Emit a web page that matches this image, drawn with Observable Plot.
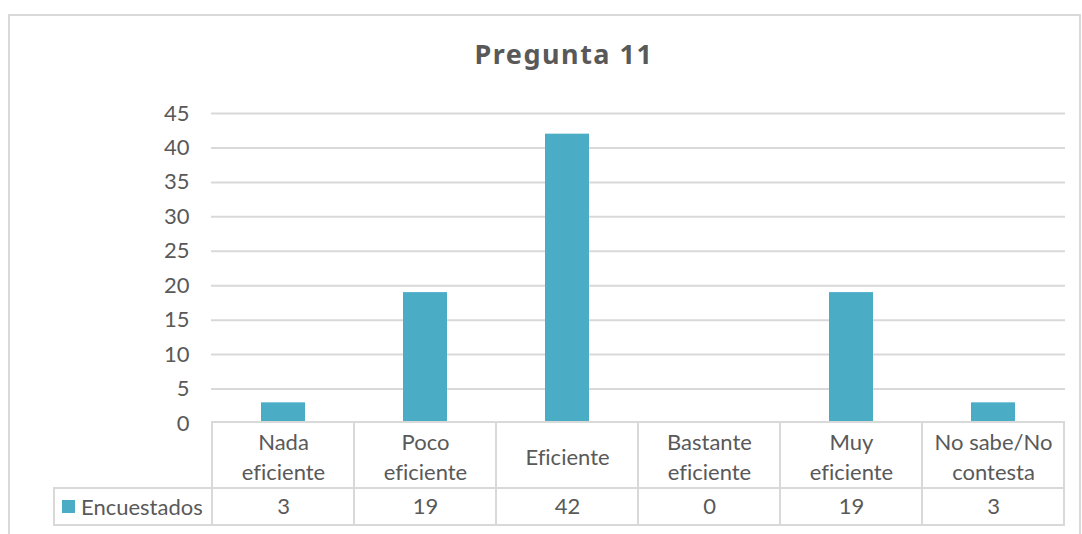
<!DOCTYPE html>
<html>
<head>
<meta charset="utf-8">
<script src="https://cdn.jsdelivr.net/npm/d3@7"></script>
<script src="https://cdn.jsdelivr.net/npm/@observablehq/plot@0.6"></script>
<style>
  html, body { margin: 0; padding: 0; background: #fff; }
  body { width: 1082px; height: 534px; overflow: hidden; position: relative; font-family: Lato, "Open Sans", sans-serif; color: #595959; font-variant-ligatures: none; }
  svg text { font-variant-ligatures: none; }
  #frame { position: absolute; left: 8px; top: 14px; width: 1073px; height: 560px; border: 2px solid #d9d9d9; box-sizing: border-box; pointer-events: none; }
  #title { position: absolute; left: 364px; width: 400px; top: 39px; text-align: center; font-family: "Noto Sans", "Open Sans", sans-serif; font-size: 27px; line-height: 30px; letter-spacing: 1.5px; font-weight: 700; color: #595959; }
  .part { position: absolute; left: 0; }
  .part svg { overflow: visible; }
  #legend { position: absolute; left: 53px; top: 487px; width: 160px; height: 39px; border: 2px solid #d9d9d9; box-sizing: border-box; background: #fff; display: flex; align-items: center; font-size: 22px; color: #595959; }
  #legend .sw { width: 13px; height: 13px; background: #4bacc6; margin-left: 7px; margin-right: 6px; }
</style>
</head>
<body>
<div id="title">Pregunta 11</div>
<div id="chart" class="part" style="top:90px"></div>
<div id="header" class="part" style="top:421px"></div>
<div id="values" class="part" style="top:487px"></div>
<div id="legend"><span class="sw"></span><span id="legendText"></span></div>
<div id="frame"></div>
<script>
const categories = ["Nada eficiente", "Poco eficiente", "Eficiente", "Bastante eficiente", "Muy eficiente", "No sabe/No contesta"];
const categoryLabels = ["Nada\neficiente", "Poco\neficiente", "Eficiente", "Bastante\neficiente", "Muy\neficiente", "No sabe/No\ncontesta"];
const seriesName = "Encuestados";
const values = [3, 19, 42, 0, 19, 3];
const yTicks = [0, 5, 10, 15, 20, 25, 30, 35, 40, 45];

const data = categories.map((c, i) => ({category: c, label: categoryLabels[i], value: values[i]}));

const FONT = "Lato, 'Open Sans', sans-serif";
const TEXT = "#595959";
const GRID = "#d9d9d9";
const BAR = "#4bacc6";

const xScale = {type: "band", domain: categories, padding: 0, axis: null};
const baseStyle = {fontFamily: FONT, fontSize: "22px", color: TEXT, background: "transparent", overflow: "visible", fontVariantLigatures: "none"};

const chart = Plot.plot({
  width: 1082, height: 345,
  marginLeft: 211, marginRight: 17, marginTop: 23, marginBottom: 12,
  x: xScale,
  y: {domain: [0, 45], axis: null},
  style: baseStyle,
  marks: [
    Plot.gridY(yTicks, {stroke: GRID, strokeOpacity: 1, strokeWidth: 2}),
    Plot.axisY(yTicks, {tickSize: 0, tickPadding: 22, fontSize: 22, fill: TEXT, label: null}),
    Plot.barY(data, {x: "category", y: "value", fill: BAR, insetLeft: 49, insetRight: 49})
  ]
});
document.getElementById("chart").append(chart);

const header = Plot.plot({
  width: 1082, height: 68,
  marginLeft: 211, marginRight: 17, marginTop: 1, marginBottom: 1,
  x: xScale,
  style: baseStyle,
  marks: [
    Plot.cell(data, {x: "category", fill: "white", stroke: GRID, strokeWidth: 2}),
    Plot.text(data, {x: "category", text: "label", frameAnchor: "middle", lineHeight: 1.36, fontSize: 22, fill: TEXT})
  ]
});
document.getElementById("header").append(header);

const valueRow = Plot.plot({
  width: 1082, height: 39,
  marginLeft: 211, marginRight: 17, marginTop: 1, marginBottom: 1,
  x: xScale,
  style: baseStyle,
  marks: [
    Plot.cell(data, {x: "category", fill: "white", stroke: GRID, strokeWidth: 2}),
    Plot.text(data, {x: "category", text: d => String(d.value), frameAnchor: "middle", fontSize: 22, fill: TEXT})
  ]
});
document.getElementById("values").append(valueRow);

document.getElementById("legendText").textContent = seriesName;
</script>
</body>
</html>
